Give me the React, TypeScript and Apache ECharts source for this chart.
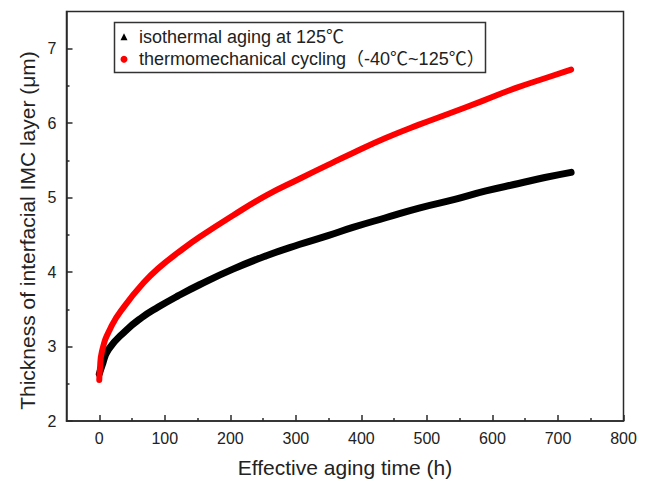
import { useEffect, useRef } from "react";
import * as echarts from "echarts";

// Interfacial IMC layer thickness (μm) against effective aging time (h)
const hoursIsothermal = [0, 4, 14, 40, 65, 90, 120, 153, 204, 255, 305, 349, 387, 437, 488, 544, 590, 640, 680, 720];
const thicknessIsothermal = [2.63, 2.74, 2.96, 3.21, 3.39, 3.53, 3.68, 3.83, 4.04, 4.22, 4.37, 4.49, 4.6, 4.73, 4.86, 4.98, 5.09, 5.19, 5.27, 5.34];

const hoursCycling = [0, 1, 4, 19, 40, 65, 90, 126, 153, 204, 255, 305, 349, 387, 437, 488, 534, 585, 635, 686, 720];
const thicknessCycling = [2.55, 2.7, 2.93, 3.28, 3.56, 3.83, 4.05, 4.3, 4.47, 4.76, 5.03, 5.25, 5.44, 5.6, 5.8, 5.98, 6.13, 6.3, 6.47, 6.62, 6.72];

const xMajorTicks = [0, 100, 200, 300, 400, 500, 600, 700, 800];
const xMinorTicks = [50, 150, 250, 350, 450, 550, 650, 750];
const yMajorTicks = [2, 3, 4, 5, 6, 7];
const yMinorTicks = [2.5, 3.5, 4.5, 5.5, 6.5];

const nameIsothermal = "isothermal aging at 125℃";
const nameCycling = "thermomechanical cycling（-40℃~125℃）";

const FONT = "'Liberation Sans', Arial, 'Noto Sans CJK SC', sans-serif";
const INK = "#222";
const AXIS = "#2a2a2a";

export default function App() {
  const ref = useRef<HTMLDivElement>(null);

  useEffect(() => {
    if (!ref.current) return;
    const chart = echarts.init(ref.current, null, { renderer: "svg" });

    const tickStyle = { color: AXIS, width: 1.5 };
    const hiddenLine = { show: false, onZero: false };

    chart.setOption({
      animation: false,
      backgroundColor: "#fff",
      textStyle: { fontFamily: FONT },
      grid: {
        left: 66.5,
        right: 22.5,
        top: 11.5,
        bottom: 59.5,
        show: true,
        borderColor: AXIS,
        borderWidth: 1.5,
        backgroundColor: "transparent",
      },
      graphic: [
        {
          type: "rect",
          shape: { x: 114.5, y: 22.5, width: 371, height: 50 },
          style: { fill: "#fff", stroke: "#333", lineWidth: 1.5 },
          z: 5,
        },
        {
          type: "text",
          x: 27,
          y: 230.5,
          rotation: Math.PI / 2,
          style: {
            text: "Thickness of interfacial IMC layer (μm)",
            fontSize: 21,
            fontFamily: FONT,
            fill: INK,
            align: "center",
            verticalAlign: "middle",
          },
        },
      ],
      legend: {
        left: 120.5,
        top: 26.7,
        orient: "vertical",
        itemWidth: 7,
        itemHeight: 7,
        itemGap: 2.6,
        padding: 0,
        selectedMode: false,
        z: 10,
        textStyle: { fontSize: 18, lineHeight: 20, color: INK, fontFamily: FONT, padding: [0, 0, 0, 6.5] },
        data: [
          { name: nameIsothermal, icon: "triangle", itemStyle: { color: "#000" } },
          { name: nameCycling, icon: "circle", itemStyle: { color: "#ff0000" } },
        ],
      },
      xAxis: [
        {
          type: "value",
          min: -50,
          max: 800,
          position: "bottom",
          name: "Effective aging time (h)",
          nameLocation: "middle",
          nameGap: 36,
          nameTextStyle: { fontSize: 21, color: INK, fontFamily: FONT },
          axisLine: { show: true, onZero: false, lineStyle: tickStyle },
          axisTick: { show: true, inside: true, length: 6, customValues: xMajorTicks, lineStyle: tickStyle },
          axisLabel: { customValues: xMajorTicks, fontSize: 16, margin: 9, color: INK, fontFamily: FONT },
          splitLine: { show: false },
        },
        {
          type: "value",
          min: -50,
          max: 800,
          position: "bottom",
          axisLine: hiddenLine,
          axisTick: { show: true, inside: true, length: 3, customValues: xMinorTicks, lineStyle: tickStyle },
          axisLabel: { show: false },
          splitLine: { show: false },
        },
      ],
      yAxis: [
        {
          type: "value",
          min: 2,
          max: 7.5,
          position: "left",
          axisLine: { show: true, onZero: false, lineStyle: tickStyle },
          axisTick: { show: true, inside: true, length: 6, customValues: yMajorTicks, lineStyle: tickStyle },
          axisLabel: { customValues: yMajorTicks, fontSize: 16, margin: 10, color: INK, fontFamily: FONT },
          splitLine: { show: false },
        },
        {
          type: "value",
          min: 2,
          max: 7.5,
          position: "left",
          axisLine: hiddenLine,
          axisTick: { show: true, inside: true, length: 3, customValues: yMinorTicks, lineStyle: tickStyle },
          axisLabel: { show: false },
          splitLine: { show: false },
        },
      ],
      series: [
        {
          type: "line",
          name: nameIsothermal,
          xAxisIndex: 0,
          yAxisIndex: 0,
          data: hoursIsothermal.map((h, i) => [h, thicknessIsothermal[i]]),
          showSymbol: false,
          symbol: "triangle",
          smooth: 0.5,
          itemStyle: { color: "#000" },
          lineStyle: { color: "#000", width: 7, cap: "round", join: "round" },
          z: 2,
        },
        {
          type: "line",
          name: nameCycling,
          xAxisIndex: 0,
          yAxisIndex: 0,
          data: hoursCycling.map((h, i) => [h, thicknessCycling[i]]),
          showSymbol: false,
          symbol: "circle",
          smooth: 0.5,
          itemStyle: { color: "#ff0000" },
          lineStyle: { color: "#ff0000", width: 6, cap: "round", join: "round" },
          z: 3,
        },
      ],
    });

    return () => chart.dispose();
  }, []);

  return (
    <div
      ref={ref}
      style={{ position: "fixed", left: 0, top: 0, width: 646, height: 483, background: "#fff" }}
    />
  );
}
